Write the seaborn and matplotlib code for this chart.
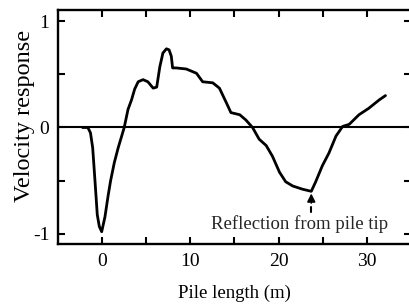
import matplotlib
matplotlib.use("Agg")
import matplotlib.pyplot as plt
import seaborn as sns

# pile length (m) and normalised velocity response
pile_length = [-2.2, -1.6, -1.3, -1.05, -0.79, -0.53, -0.3, -0.03, 0.34, 0.7,
               0.98, 1.4, 1.84, 2.2, 2.52, 2.95, 3.35, 3.7, 4.1, 4.65,
               5.2, 5.8, 6.2, 6.55, 6.9, 7.3, 7.6, 7.85, 8.0, 8.4,
               9.55, 10.7, 11.4, 12.55, 13.3, 14.1, 14.6, 15.6, 16.3, 17.05,
               17.8, 18.6, 19.3, 20.1, 20.8, 21.6, 22.7, 23.7, 24.2, 24.95,
               25.7, 26.5, 27.25, 28.0, 29.1, 30.2, 31.4, 32.1]
velocity = [0.0, 0.0, -0.05, -0.19, -0.50, -0.82, -0.93, -0.98, -0.84, -0.64,
            -0.50, -0.33, -0.19, -0.09, 0.0, 0.17, 0.26, 0.36, 0.43, 0.45,
            0.43, 0.37, 0.38, 0.57, 0.70, 0.74, 0.73, 0.67, 0.56, 0.56,
            0.55, 0.51, 0.43, 0.42, 0.37, 0.23, 0.14, 0.12, 0.07, 0.0,
            -0.11, -0.17, -0.27, -0.42, -0.51, -0.55, -0.58, -0.60, -0.51, -0.36,
            -0.24, -0.08, 0.01, 0.03, 0.12, 0.18, 0.26, 0.30]

x_major = [0, 10, 20, 30]
x_minor = [5, 15, 25]
y_ticks = [-1, -0.5, 0, 0.5, 1]
y_labels = ["-1", "", "0", "", "1"]

tip_x = 23.7
tip_y = -0.62
note = "Reflection from pile tip"

sns.set_style("ticks")
plt.rcParams["font.family"] = ["Liberation Serif", "DejaVu Serif"]
plt.rcParams["axes.unicode_minus"] = False

fig = plt.figure(figsize=(4.09, 3.07), dpi=100)
ax = fig.add_axes([0.1413, 0.2036, 0.8638, 0.7622])

ax.axhline(0, color="black", lw=1.5, zorder=1)
sns.lineplot(x=pile_length, y=velocity, color="black", lw=2.0, ax=ax, zorder=2)

# arrow to the tip reflection
ax.annotate("", xy=(tip_x, tip_y), xytext=(tip_x, tip_y - 0.09),
            arrowprops=dict(arrowstyle="-|>", color="black", lw=1.2,
                            mutation_scale=12, shrinkA=0, shrinkB=0))
ax.plot([tip_x, tip_x], [tip_y - 0.125, tip_y - 0.175], color="black", lw=1.5)
ax.text(tip_x - 1.3, -0.905, note, ha="center", va="center", fontsize=13.5)

ax.set_xlim(-5, 35)
ax.set_ylim(-1.1, 1.1)
ax.set_xticks(x_major)
ax.set_xticks(x_minor, minor=True)
ax.set_yticks(y_ticks)
ax.set_yticklabels(y_labels)
ax.tick_params(which="both", direction="in", length=5, width=1.5,
               top=True, right=True, labelsize=14, pad=6, color="black",
               labelcolor="black")

for s in ax.spines.values():
    s.set_linewidth(1.7)
    s.set_color("black")

ax.set_xlabel("Pile length (m)", fontsize=13.5, labelpad=11, color="black")
ax.set_ylabel("Velocity response", fontsize=17.5, color="black")
ax.yaxis.set_label_coords(-0.064, 0.55)

fig.savefig("out.png", dpi=100)
